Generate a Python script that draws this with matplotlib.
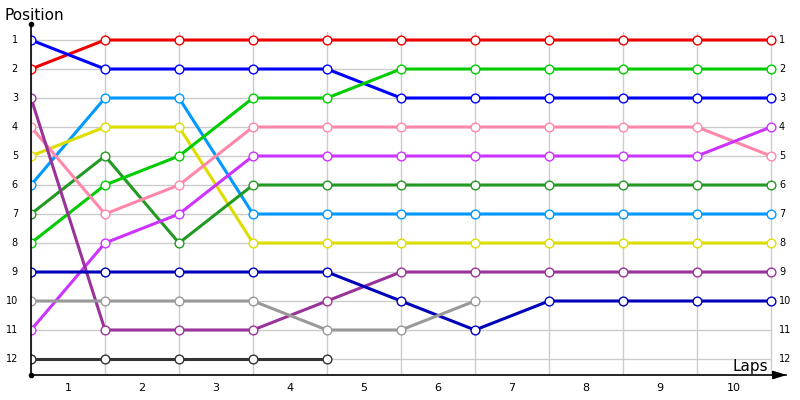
import matplotlib
matplotlib.use("Agg")
import matplotlib.pyplot as plt

laps = list(range(0, 11))
lap_labels = [str(i) for i in range(1, 11)]
positions = list(range(1, 13))

series = [
    ("#ee0000", [2, 1, 1, 1, 1, 1, 1, 1, 1, 1, 1]),
    ("#0000ff", [1, 2, 2, 2, 2, 3, 3, 3, 3, 3, 3]),
    ("#0099ff", [6, 3, 3, 7, 7, 7, 7, 7, 7, 7, 7]),
    ("#dddd00", [5, 4, 4, 8, 8, 8, 8, 8, 8, 8, 8]),
    ("#229922", [7, 5, 8, 6, 6, 6, 6, 6, 6, 6, 6]),
    ("#00cc00", [8, 6, 5, 3, 3, 2, 2, 2, 2, 2, 2]),
    ("#ff88aa", [4, 7, 6, 4, 4, 4, 4, 4, 4, 4, 5]),
    ("#cc33ff", [11, 8, 7, 5, 5, 5, 5, 5, 5, 5, 4]),
    ("#993399", [3, 11, 11, 11, 10, 9, 9, 9, 9, 9, 9]),
    ("#0000bb", [9, 9, 9, 9, 9, 10, 11, 10, 10, 10, 10]),
    ("#999999", [10, 10, 10, 10, 11, 11, 10]),
    ("#333333", [12, 12, 12, 12, 12]),
]

W, H = 800, 400
fig = plt.figure(figsize=(8, 4), dpi=100)
# axes in pixel coords: left 31, right 790, top 24, bottom 375
ax = fig.add_axes([31 / W, 1 - 375 / H, (790 - 31) / W, (375 - 24) / H])
px_x = 74.0
px_y = 29.0
ax.set_xlim(0, (790 - 31) / px_x)
ax.set_ylim(12 + (375 - 359) / px_y, 1 - (40 - 24) / px_y)
ax.axis("off")

# grid
ytop_grid = 1 - (40 - 32) / px_y
for x in laps:
    ax.plot([x, x], [ytop_grid, ax.get_ylim()[0]], color="#cccccc", lw=1, zorder=0)
for p in positions:
    ax.plot([0, 10], [p, p], color="#cccccc", lw=1, zorder=0)

for color, vals in series:
    ax.plot(laps[:len(vals)], vals, color=color, lw=2.2, marker="o", ms=6.3,
            mfc="white", mec=color, mew=1.0, zorder=3, solid_capstyle="butt")

# axes
ylo, yhi = ax.get_ylim()
ax.plot([0, 0], [ylo, yhi], color="black", lw=1.2, zorder=4, clip_on=False)
ax.plot([0, 10.2], [ylo, ylo], color="black", lw=1.2, zorder=4, clip_on=False)
ax.plot([0], [yhi], marker="o", ms=3, color="black", clip_on=False, zorder=5)
ax.plot([0], [ylo], marker="o", ms=3, color="black", clip_on=False, zorder=5)
ax.annotate("", xy=(10.25, ylo), xytext=(10.05, ylo),
            arrowprops=dict(arrowstyle="-|>,head_length=0.8,head_width=0.25",
                            color="black", lw=1.2), zorder=5, annotation_clip=False)

# tick labels
for p in positions:
    ax.text(-13 / px_x, p, str(p), ha="right", va="center", fontsize=7, clip_on=False)
    ax.text(10 + 8 / px_x, p, str(p), ha="left", va="center", fontsize=7, clip_on=False)
for i, lab in enumerate(lap_labels):
    ax.text(i + 0.5, ylo + 13 / px_y, lab, ha="center", va="center", fontsize=8, clip_on=False)

fig.text(4 / W, 1 - 15 / H, "Position", ha="left", va="center", fontsize=11)
fig.text(768 / W, 1 - 366 / H, "Laps", ha="right", va="center", fontsize=11)

fig.savefig("out.png", dpi=100)
